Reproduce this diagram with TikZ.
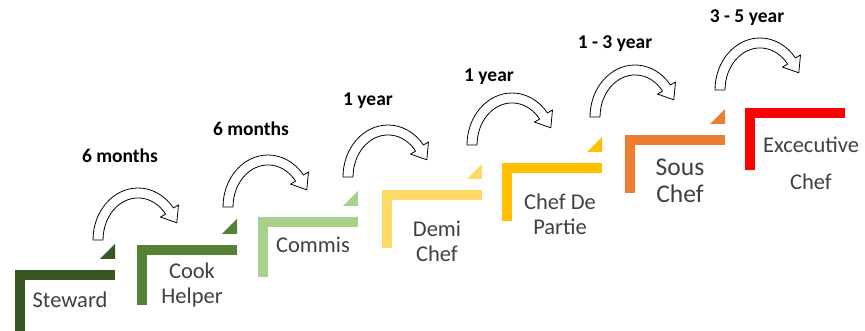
\documentclass[tikz,border=0pt]{standalone}
\usepackage{fontspec}
\setmainfont{Carlito}
\definecolor{cA}{HTML}{385723}
\definecolor{cB}{HTML}{548235}
\definecolor{cC}{HTML}{A9D18E}
\definecolor{cD}{HTML}{FFD966}
\definecolor{cE}{HTML}{FFC000}
\definecolor{cF}{HTML}{ED7D31}
\definecolor{cG}{HTML}{FF0000}
\definecolor{txt}{HTML}{404040}
\tikzset{
  steptext/.style={text=txt, font=\fontsize{22.5}{25}\selectfont, align=center, inner sep=0pt},
  bigtext/.style={text=txt, font=\fontsize{25.5}{27}\selectfont, align=center, inner sep=0pt},
  timelabel/.style={text=black, font=\bfseries\fontsize{19.5}{21}\selectfont, inner sep=0pt},
  arrowline/.style={draw=black, line width=0.8pt, fill=white, line join=round},
  pics/carrow/.style={code={
    \path[arrowline] (0pt,0pt) arc[start angle=180,end angle=38,x radius=45pt,y radius=52pt]
      -- (85.5pt,35.1pt) -- (83.8pt,17.2pt) -- (67.5pt,22.9pt) -- (72.6pt,25.9pt)
      arc[start angle=38,end angle=180,x radius=35pt,y radius=42pt] -- cycle;
  }},
  pics/stair/.style args={#1/#2}{code={
    \fill[#1] (0pt,-10pt) rectangle (100pt,0pt);
    \fill[#1] (0pt,-#2) rectangle (10pt,0pt);
  }},
  pics/wedge/.style={code={
    \fill[#1] (100pt,11pt) -- (100pt,26pt) -- (85pt,11pt) -- cycle;
  }}
}
\begin{document}
\begin{tikzpicture}[x=1pt,y=1pt]
\useasboundingbox (0,0) rectangle (865,331);
% stairs
\pic at (15,61) {stair={cA/62pt}};   \pic at (15,61) {wedge=cA};
\pic at (137,86) {stair={cB/60pt}};  \pic at (137,86) {wedge=cB};
\pic at (258,114) {stair={cC/60pt}}; \pic at (258,114) {wedge=cC};
\pic at (382,141) {stair={cD/58pt}}; \pic at (382,141) {wedge=cD};
\pic at (502,168) {stair={cE/58pt}}; \pic at (502,168) {wedge=cE};
\pic at (625,196) {stair={cF/58pt}}; \pic at (625,196) {wedge=cF};
\pic at (745,223) {stair={cG/62pt}};
% step texts
\node[steptext] (s1) at (70,31) {Steward};
\node[steptext] (s2) at (192,45.5) {Cook\\Helper};
\node[steptext] (s3) at (313,86) {Commis};
\node[steptext] (s4) at (437,89.5) {Demi\\Chef};
\node[steptext] (s5) at (560,116.5) {Chef De\\Partie};
\node[bigtext] (s6) at (680,150) {Sous\\Chef};
\node[steptext] (s7) at (811,168) {Excecutive\\[12pt]Chef};
% arrows
\pic at (93,91) {carrow};
\pic at (223,124) {carrow};
\pic at (343,154) {carrow};
\pic at (467,186) {carrow};
\pic at (590,214) {carrow};
\pic at (715,241) {carrow};
% labels
\node[timelabel] (t1) at (120,175) {6 months};
\node[timelabel] (t2) at (251,202) {6 months};
\node[timelabel] (t3) at (368,230) {1 year};
\node[timelabel] (t4) at (489,254) {1 year};
\node[timelabel] (t5) at (615,287) {1 - 3 year};
\node[timelabel] (t6) at (747,313) {3 - 5 year};
\end{tikzpicture}
\end{document}
